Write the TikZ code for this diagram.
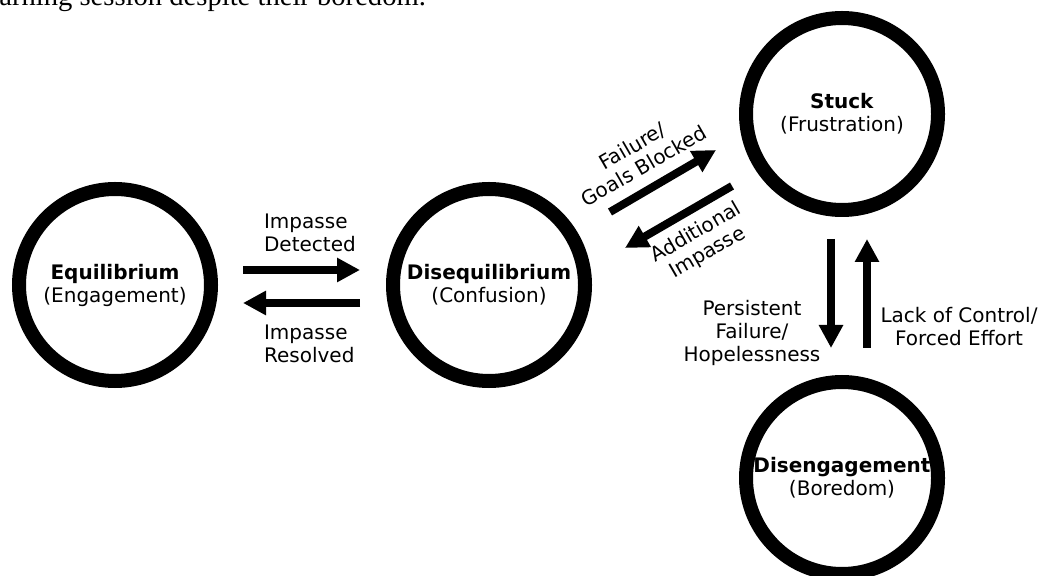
\documentclass[tikz,border=0pt]{standalone}
\usepackage{fontspec}
\setmainfont{DejaVu Sans}
\newfontfamily\capfont{Liberation Serif}
\usetikzlibrary{arrows.meta}

\begin{document}
\begin{tikzpicture}[x=0.5pt,y=-0.5pt,
  state/.style={draw,circle,line width=7pt,minimum size=96pt,inner sep=0pt,align=center,font=\fontsize{10}{11.5}\selectfont},
  flow/.style={-{Triangle[length=11.5pt,width=11.5pt]},line width=4pt},
  lbl/.style={align=center,font=\fontsize{10}{11.5}\selectfont}]
 \useasboundingbox (0,0) rectangle (1042,576);
 \clip (0,0) rectangle (1042,576);
 \node[anchor=base west,inner sep=0pt,font=\capfont\fontsize{14.3}{16}\selectfont] (cap) at (-1,6) {arning session despite their boredom.}; %本文の残り
 \node[state] (eq) at (115,285) {\textbf{Equilibrium}\\(Engagement)}; %平衡
 \node[state] (dis) at (489,285) {\textbf{Disequilibrium}\\(Confusion)}; %不平衡
 \node[state] (stuck) at (842,114) {\textbf{Stuck}\\(Frustration)}; %行き詰まり
 \node[state] (bored) at (842,478) {\textbf{Disengagement}\\(Boredom)}; %離脱
 \draw[flow,shorten <=12.5pt,shorten >=13pt] ([yshift=7.5pt]eq.east) -- ([yshift=7.5pt]dis.west);
 \draw[flow,shorten <=13pt,shorten >=12.5pt] ([yshift=-9pt]dis.west) -- ([yshift=-9pt]eq.east);
 \coordinate (fb0) at (610,212); \coordinate (fb1) at (716,150);
 \coordinate (ai0) at (732,186); \coordinate (ai1) at (625,248);
 \draw[flow] (fb0) -- (fb1);
 \draw[flow] (ai0) -- (ai1);
 \draw[flow,shorten <=11pt,shorten >=13.5pt] ([xshift=-5.5pt]stuck.south) -- ([xshift=-5.5pt]bored.north);
 \draw[flow,shorten <=13.5pt,shorten >=11pt] ([xshift=12.5pt]bored.north) -- ([xshift=12.5pt]stuck.south);
 \node[lbl,anchor=west,align=left] (det) at (257,233) {Impasse\\Detected};
 \node[lbl,anchor=west,align=left] (res) at (257,344) {Impasse\\Resolved};
 \node[lbl,rotate=30] (blk) at (638,156) {Failure/\\Goals Blocked};
 \node[lbl,rotate=30] (add) at (702,243) {Additional\\Impasse};
 \node[lbl] (hop) at (752,333) {Persistent\\Failure/\\Hopelessness};
 \node[lbl] (lack) at (959,327) {Lack of Control/\\Forced Effort};
\end{tikzpicture}
\end{document}
